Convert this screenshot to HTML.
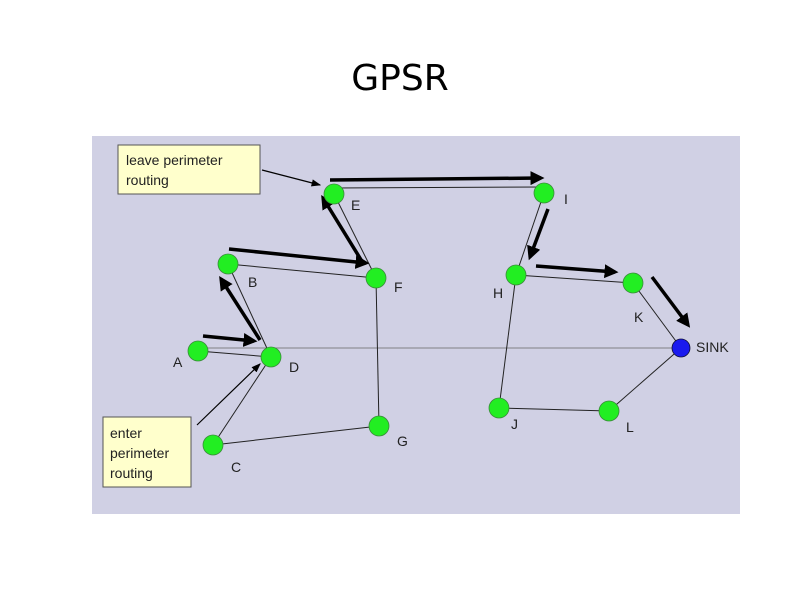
<!DOCTYPE html>
<html><head><style>
body{margin:0;background:#fff;width:800px;height:600px;overflow:hidden;font-family:"Liberation Sans",sans-serif}
</style></head><body>
<svg width="800" height="600" xmlns="http://www.w3.org/2000/svg" font-family="Liberation Sans, sans-serif">
<defs>
<marker id="ab" markerWidth="4" markerHeight="4" refX="3" refY="2" orient="auto" markerUnits="strokeWidth"><path d="M0,0 L4,2 L0,4 z" fill="#000"/></marker>
<marker id="as" markerWidth="8" markerHeight="6" refX="7" refY="3" orient="auto" markerUnits="strokeWidth"><path d="M0,0 L8,3 L0,6 z" fill="#000"/></marker>
</defs>
<text x="400" y="90" font-size="36" text-anchor="middle" font-family="DejaVu Sans, sans-serif" fill="#000">GPSR</text>
<rect x="92" y="136" width="648" height="378" fill="#d0d0e4"/>
<line x1="198" y1="348" x2="681" y2="348" stroke="#666" stroke-width="0.8"/>
<g stroke="#222" stroke-width="1">
<line x1="198" y1="351" x2="271" y2="357"/>
<line x1="271" y1="357" x2="228" y2="264"/>
<line x1="228" y1="264" x2="376" y2="278"/>
<line x1="376" y1="278" x2="334" y2="194"/>
<line x1="334" y1="188" x2="544" y2="187"/>
<line x1="544" y1="193" x2="516" y2="275"/>
<line x1="516" y1="275" x2="633" y2="283"/>
<line x1="633" y1="283" x2="681" y2="348"/>
<line x1="376" y1="278" x2="379" y2="426"/>
<line x1="379" y1="426" x2="213" y2="445"/>
<line x1="213" y1="445" x2="271" y2="357"/>
<line x1="516" y1="275" x2="499" y2="408"/>
<line x1="499" y1="408" x2="609" y2="411"/>
<line x1="609" y1="411" x2="681" y2="348"/>
</g>
<g stroke="#000" stroke-width="3.5" marker-end="url(#ab)">
<line x1="203" y1="336" x2="254" y2="341"/>
<line x1="260" y1="340" x2="221" y2="279"/>
<line x1="229" y1="249" x2="366" y2="263"/>
<line x1="363" y1="263" x2="323" y2="198"/>
<line x1="330" y1="180" x2="541" y2="178"/>
<line x1="548" y1="209" x2="530" y2="257"/>
<line x1="536" y1="266" x2="615" y2="272"/>
<line x1="652" y1="277" x2="688" y2="325"/>
</g>
<g stroke="#000" stroke-width="1.2" marker-end="url(#as)">
<line x1="262" y1="170" x2="320" y2="185"/>
<line x1="197" y1="425" x2="260" y2="364"/>
</g>
<g fill="#22ee22" stroke="#3a8a3a" stroke-width="0.8">
<circle cx="198" cy="351" r="10"/><circle cx="228" cy="264" r="10"/>
<circle cx="213" cy="445" r="10"/><circle cx="271" cy="357" r="10"/>
<circle cx="334" cy="194" r="10"/><circle cx="376" cy="278" r="10"/>
<circle cx="379" cy="426" r="10"/><circle cx="544" cy="193" r="10"/>
<circle cx="516" cy="275" r="10"/><circle cx="633" cy="283" r="10"/>
<circle cx="499" cy="408" r="10"/><circle cx="609" cy="411" r="10"/>
</g>
<circle cx="681" cy="348" r="9" fill="#1a1aee" stroke="#113" stroke-width="0.8"/>
<g font-size="14" fill="#222">
<text x="173" y="367">A</text><text x="248" y="287">B</text>
<text x="231" y="472">C</text><text x="289" y="372">D</text>
<text x="351" y="210">E</text><text x="394" y="292">F</text>
<text x="397" y="446">G</text><text x="564" y="204">I</text>
<text x="493" y="298">H</text><text x="634" y="322">K</text>
<text x="511" y="429">J</text><text x="626" y="432">L</text>
<text x="696" y="352">SINK</text>
</g>
<rect x="118" y="145" width="142" height="49" fill="#ffffcc" stroke="#555"/>
<text x="126" y="165" font-size="14" fill="#222">leave perimeter</text>
<text x="126" y="185" font-size="14" fill="#222">routing</text>
<rect x="103" y="417" width="88" height="70" fill="#ffffcc" stroke="#555"/>
<text x="110" y="438" font-size="14" fill="#222">enter</text>
<text x="110" y="458" font-size="14" fill="#222">perimeter</text>
<text x="110" y="478" font-size="14" fill="#222">routing</text>
</svg>
</body></html>
